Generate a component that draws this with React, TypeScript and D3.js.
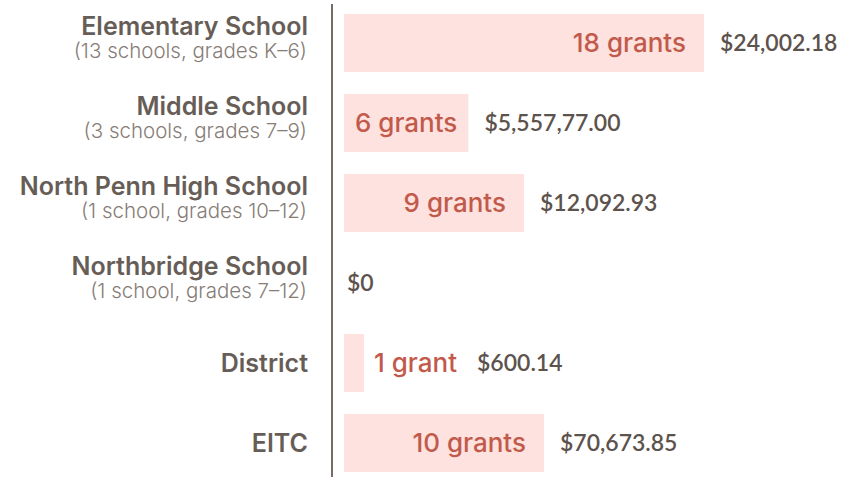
import React from "react";
import * as d3 from "d3";

const categories = [
  "Elementary School",
  "Middle School",
  "North Penn High School",
  "Northbridge School",
  "District",
  "EITC",
];
const subtitles = [
  "(13 schools, grades K–6)",
  "(3 schools, grades 7–9)",
  "(1 school, grades 10–12)",
  "(1 school, grades 7–12)",
  "",
  "",
];
const grants = [18, 6, 9, 0, 1, 10];
const amounts = [
  "$24,002.18",
  "$5,557,77.00",
  "$12,092.93",
  "$0",
  "$600.14",
  "$70,673.85",
];

const W = 842;
const H = 477;
const TITLE_FONT = "Inter, 'Noto Sans', sans-serif";
const NUM_FONT = "Lato, 'Noto Sans', sans-serif";
const GRANT_FONT = "Inter";
const GRANT_SIZE = 26;
const GRANT_WEIGHT = 500;

let ctx: CanvasRenderingContext2D | null = null;
function measure(text: string, size: number, weight: number) {
  if (!ctx) ctx = document.createElement("canvas").getContext("2d");
  if (!ctx) return text.length * size * 0.5;
  ctx.font = `${weight} ${size}px ${GRANT_FONT}`;
  return ctx.measureText(text).width;
}

export default function App() {
  const y = d3
    .scaleBand<string>()
    .domain(categories)
    .range([3, 483])
    .paddingInner(0.275)
    .paddingOuter(0.1375);
  const x = d3.scaleLinear().domain([0, 18]).range([344, 704]);
  const x0 = x(0);

  return (
    <svg
      width={W}
      height={H}
      style={{ position: "absolute", left: 0, top: 0, display: "block", background: "#fff" }}
    >
      <line x1={332} x2={332} y1={4} y2={H} stroke="#776c65" strokeWidth={2} />
      {categories.map((c, i) => {
        const top = y(c) as number;
        const bw = y.bandwidth();
        const cy = top + bw / 2;
        const n = grants[i];
        const label = n === 1 ? "1 grant" : `${n} grants`;
        const tw = measure(label, GRANT_SIZE, GRANT_WEIGHT);
        let barW = x(n) - x0;
        const inside = n > 0 && barW >= tw * 0.8;
        let labelEl: React.ReactNode = null;
        let dollarX: number;
        if (n === 0) {
          dollarX = x0 + 3;
        } else if (inside) {
          barW = Math.max(barW, tw + 22);
          const pad = Math.min(18, (barW - tw) / 2);
          labelEl = (
            <text
              x={x0 + barW - pad}
              y={cy}
              dy="0.36em"
              textAnchor="end"
              fill="#c25a4b"
              fontFamily={GRANT_FONT}
              fontSize={GRANT_SIZE}
              fontWeight={GRANT_WEIGHT}
            >
              {label}
            </text>
          );
          dollarX = x0 + barW + 16;
        } else {
          labelEl = (
            <text
              x={x0 + barW + 10}
              y={cy}
              dy="0.36em"
              textAnchor="start"
              fill="#c25a4b"
              fontFamily={GRANT_FONT}
              fontSize={GRANT_SIZE}
              fontWeight={GRANT_WEIGHT}
            >
              {label}
            </text>
          );
          dollarX = x0 + barW + 10 + tw + 20;
        }
        return (
          <g key={c} fontFamily={TITLE_FONT}>
            {n > 0 && <rect x={x0} y={top} width={barW} height={bw} fill="#fde2df" />}
            {labelEl}
            <text
              x={dollarX}
              y={cy}
              dy="0.36em"
              fill="#5d534d"
              fontFamily={NUM_FONT}
              fontSize={23}
              fontWeight={600}
            >
              {amounts[i]}
            </text>
            {subtitles[i] ? (
              <>
                <text x={308} y={cy - 8} textAnchor="end" fill="#675d57" fontSize={25} fontWeight={600}>
                  {c}
                </text>
                <text x={307} y={cy + 15} textAnchor="end" fill="#867c76" fontSize={20.5} fontWeight={300}>
                  {subtitles[i]}
                </text>
              </>
            ) : (
              <text x={308} y={cy} dy="0.36em" textAnchor="end" fill="#675d57" fontSize={25} fontWeight={600}>
                {c}
              </text>
            )}
          </g>
        );
      })}
    </svg>
  );
}
